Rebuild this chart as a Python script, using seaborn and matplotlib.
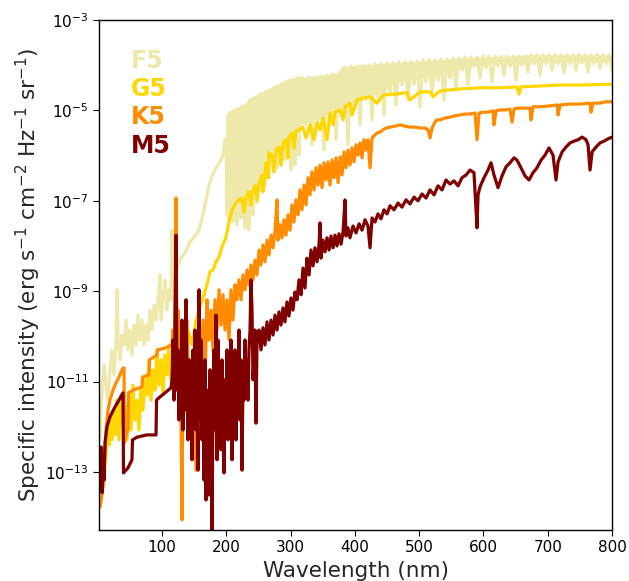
import numpy as np
import pandas as pd
import matplotlib
matplotlib.use("Agg")
import matplotlib.pyplot as plt
import seaborn as sns

# ---------------- data (wavelength in nm, log10 specific intensity) ----------------
stars = ["F5", "G5", "K5", "M5"]
colors = ["#EEE8AA", "#FFD700", "#FF8C00", "#800000"]

f5_wl = [3.6, 5.1, 6.7, 8.2, 9.8, 12.9, 16.0, 19.1, 22.2, 25.3, 28.4, 30.0, 31.6, 34.7, 37.8,
         40.9, 44.0, 47.1, 50.2, 53.3, 56.4, 59.6, 62.7, 65.8, 68.9, 72.0, 75.1, 78.2, 81.3, 84.4,
         87.6, 90.7, 93.8, 96.9, 98.4, 101.6, 104.7, 107.8, 110.9, 114.0, 115.6, 117.1, 120.2, 124.9,
         129.6, 135.8, 143.6, 151.3, 157.6, 163.8, 168.4, 173.1, 177.8, 184.0, 190.2, 194.9, 198.0,
         199.6, 201.2, 202.7, 204.3, 205.8, 207.4, 208.9, 210.5, 212.0, 213.6, 215.1, 216.7, 218.2,
         219.8, 221.3, 222.9, 224.4, 226.0, 227.6, 229.1, 230.7, 232.2, 233.8, 235.3, 236.9, 238.4,
         240.0, 241.6, 243.1, 244.7, 246.2, 247.8, 249.3, 250.9, 252.4, 254.0, 255.5, 257.1, 258.6,
         260.2, 261.8, 263.3, 264.9, 266.4, 268.0, 269.5, 271.1, 272.6, 274.2, 275.7, 277.3, 278.8,
         280.4, 282.0, 283.5, 285.1, 286.6, 288.2, 289.7, 291.3, 292.8, 294.4, 295.9, 297.5, 299.1,
         300.6, 302.2, 303.7, 305.3, 306.8, 308.4, 309.9, 311.5, 313.0, 314.6,
         319.3, 324.0, 328.6, 333.3, 338.0, 342.6, 347.3, 352.0, 356.6, 361.3, 366.0, 370.6, 375.3,
         380.0, 384.7, 389.3, 394.0, 398.7, 403.3, 408.0, 412.7, 417.3, 422.0, 426.7, 431.3, 436.0,
         440.7, 445.3, 450.0, 454.7, 459.3, 464.0, 468.7, 473.3, 478.0, 482.7, 487.3, 492.0, 496.7,
         501.3, 506.0, 510.7, 515.3, 520.0, 524.7, 529.3, 534.0, 538.7, 543.3, 548.0, 552.7, 557.3,
         562.0, 566.7, 571.3, 576.0, 580.7, 585.3, 590.0, 594.7, 599.3, 604.0, 608.7, 613.3, 618.0,
         622.7, 627.3, 632.0, 636.7, 641.3, 646.0, 650.7, 655.3, 660.0, 664.7, 669.3, 674.0, 678.7,
         683.3, 688.0, 692.7, 697.3, 702.0, 706.7, 711.3, 716.0, 720.7, 725.3, 730.0, 734.7, 739.3,
         744.0, 748.7, 753.3, 758.0, 762.7, 767.3, 772.0, 776.7, 781.3, 786.0, 790.7, 795.3, 800.0]
f5_log = [-12.29, -11.6, -11.30, -10.9, -10.63, -11.08, -11.41, -10.74, -10.30, -10.85, -10.19, -8.97,
          -10.08, -10.52, -9.97, -10.19, -9.64, -10.30, -9.86, -10.41, -9.75, -10.19, -9.53, -10.08,
          -9.64, -10.19, -9.75, -10.08, -9.42, -9.86, -9.31, -9.64, -9.19, -8.64, -9.64, -9.19, -8.75,
          -9.42, -8.97, -9.19, -7.65, -8.97, -8.64, -8.42, -8.27, -8.15, -7.91, -7.78, -7.65, -7.31,
          -6.98, -6.65, -6.45, -6.27, -6.14, -5.99, -5.65,
          -5.65, -7.31, -5.10, -7.42, -5.04, -7.20, -5.04, -7.47, -5.01, -7.09,
          -4.99, -7.53, -4.97, -6.98, -4.95, -7.38, -4.92, -6.87, -4.90, -7.60,
          -4.88, -7.09, -4.84, -7.65, -4.77, -6.87, -4.75, -7.31, -4.73, -6.76,
          -4.70, -7.05, -4.68, -6.54, -4.64, -6.76, -4.64, -6.36, -4.61, -6.65,
          -4.59, -6.21, -4.57, -6.49, -4.55, -6.10, -4.53, -6.32, -4.50, -5.88,
          -4.48, -6.27, -4.46, -5.76, -4.44, -6.21, -4.42, -5.65, -4.39, -6.10,
          -4.37, -5.54, -4.35, -5.88, -4.33, -6.32, -4.33, -5.65, -4.31, -6.21,
          -4.31, -5.43, -4.28, -5.99, -4.28,
          -4.28, -5.32, -4.26, -5.76, -4.26, -5.21, -4.24, -5.88, -4.22, -5.17,
          -4.19, -5.65, -4.17, -5.04, -4.04, -5.76, -4.02, -4.99, -4.02, -5.32,
          -4.00, -4.77, -4.00, -5.21, -3.97, -4.73, -3.97, -5.10, -3.95, -4.66,
          -3.95, -4.88, -3.93, -4.44, -3.93, -4.77, -3.91, -4.42, -3.91, -4.92,
          -3.88, -4.37, -3.88, -4.66, -3.88, -4.33, -3.86, -4.77, -3.86, -4.28,
          -3.84, -4.55, -3.84, -4.11, -3.82, -4.44, -3.82, -4.02, -3.82, -4.28,
          -3.80, -4.06, -3.80, -4.37, -3.80, -4.02, -3.80, -4.22, -3.80, -4.02,
          -3.80, -4.33, -3.80, -4.00, -3.80, -4.15, -3.77, -3.97, -3.77, -4.22,
          -3.77, -3.97, -3.77, -4.11, -3.77, -3.97, -3.77, -4.17, -3.77, -3.97,
          -3.77, -4.11, -3.77, -3.95, -3.77, -4.15, -3.77, -3.97, -3.77, -4.06,
          -3.77, -3.97, -3.77, -4.11]

# unresolved line forest of F5: upper envelope and the solid floor under it
f5_forest_wl = [199.6, 205.8, 221.3, 236.9, 249.3, 261.8, 275.8, 291.3, 314.7, 345.8,
                373.8, 378.5, 403.3, 431.3, 454.7, 501.3, 563.6, 625.8, 672.5, 800.0]
f5_forest_top = [-5.10, -5.04, -4.95, -4.77, -4.68, -4.59, -4.50, -4.39, -4.28, -4.22,
                 -4.17, -4.04, -4.00, -3.97, -3.95, -3.91, -3.84, -3.80, -3.77, -3.77]
f5_forest_floor = [-7.09, -7.09, -7.09, -6.87, -6.65, -6.21, -5.92, -5.65, -5.32, -5.17,
                   -5.04, -4.99, -4.77, -4.66, -4.44, -4.28, -4.06, -3.95, -3.93, -3.93]

g5_wl = [3.6, 6.7, 9.8, 12.9, 14.4, 17.6, 19.1, 22.2, 25.3, 28.4,
         30.0, 33.1, 36.2, 39.3, 42.4, 45.6, 48.7, 51.8, 54.9, 58.0,
         61.1, 64.2, 67.3, 70.4, 73.6, 76.7, 79.8, 82.9, 86.0, 89.1,
         92.2, 95.3, 98.4, 101.6, 104.7, 107.8, 110.9, 114.0, 117.1, 121.8,
         128.0, 134.2, 140.4, 146.7, 152.9, 157.6, 163.8, 170.0, 174.7, 179.3,
         184.0, 188.7, 193.3, 199.6, 204.2, 208.9, 215.1, 219.8, 224.4, 227.6,
         230.7, 235.3, 238.4, 240.0, 244.7, 247.8, 250.9, 255.5, 257.1, 261.8,
         264.9, 266.4, 271.1, 274.2, 277.3, 282.0, 285.1, 288.2, 292.8, 295.9,
         297.5, 302.2, 305.3, 308.4, 313.1, 319.3, 324.0, 330.2, 336.4, 341.1,
         345.8, 350.4, 356.7, 361.3, 366.0, 369.1, 376.9, 381.6, 384.7, 392.4,
         395.5, 403.3, 412.7, 423.6, 434.5, 443.8, 462.4, 481.1, 485.8, 501.3,
         516.9, 521.6, 532.4, 558.9, 594.7, 625.8, 652.2, 655.3, 658.4, 688.0,
         719.1, 750.2, 800.0]
g5_log = [-12.96, -12.85, -13.00, -12.62, -12.07, -12.40, -11.74, -12.29, -11.63, -12.18,
          -11.41, -12.29, -11.30, -11.96, -11.52, -12.29, -11.30, -12.07, -11.08, -11.85,
          -11.41, -12.07, -11.19, -11.63, -10.96, -11.30, -10.52, -11.41, -10.74, -11.19,
          -10.30, -11.08, -10.52, -11.30, -10.41, -10.85, -10.19, -10.96, -10.52, -10.30,
          -10.08, -10.41, -9.86, -10.19, -9.64, -9.42, -9.15, -8.86, -8.57, -8.53,
          -8.35, -8.24, -8.02, -7.80, -7.47, -7.20, -7.05, -6.98, -6.94, -7.25,
          -6.92, -6.80, -7.09, -6.83, -6.67, -6.98, -6.61, -6.43, -6.80, -6.16,
          -6.49, -5.94, -5.99, -6.36, -5.88, -5.81, -6.21, -5.72, -5.65, -6.05,
          -5.59, -5.50, -5.83, -5.45, -5.43, -5.37, -5.61, -5.32, -5.65, -5.26,
          -5.43, -5.17, -5.65, -5.06, -5.32, -5.04, -4.99, -5.21, -4.92, -4.84,
          -5.10, -4.77, -4.73, -4.70, -4.84, -4.66, -4.64, -4.61, -4.77, -4.59,
          -4.59, -4.70, -4.57, -4.53, -4.50, -4.50, -4.48, -4.64, -4.48, -4.46,
          -4.44, -4.44, -4.42]

k5_wl = [2.0, 3.6, 6.7, 9.8, 11.3, 12.9, 14.4, 16.0, 19.1, 23.8,
         28.4, 33.1, 36.2, 39.3, 40.9, 41.7, 44.0, 47.1, 47.9, 54.9,
         68.9, 69.7, 79.8, 80.6, 92.2, 93.0, 104.7, 115.6, 117.1, 118.7,
         120.2, 121.8, 123.3, 124.9, 126.4, 128.0, 129.6, 131.1, 132.7, 135.8,
         138.9, 142.0, 143.6, 146.7, 149.8, 152.9, 156.0, 157.6, 160.7, 163.8,
         166.9, 170.0, 173.1, 176.2, 179.3, 182.4, 185.6, 188.7, 191.8, 194.9,
         198.0, 201.1, 204.2, 207.3, 210.4, 213.6, 216.7, 219.8, 222.9, 226.0,
         229.1, 232.2, 235.3, 238.4, 241.6, 244.7, 247.8, 250.9, 254.0, 257.1,
         260.2, 263.3, 266.4, 269.6, 272.7, 275.8, 278.9, 280.4, 283.5, 286.6,
         289.8, 292.9, 296.0, 299.1, 302.2, 305.3, 308.4, 311.6, 314.7, 317.8,
         320.9, 324.0, 327.1, 330.2, 333.3, 336.5, 339.6, 342.7, 345.8, 348.9,
         352.0, 355.1, 358.2, 361.3, 364.5, 367.6, 370.7, 373.8, 376.9, 380.0,
         383.1, 386.2, 389.3, 392.4, 395.5, 398.7, 401.8, 404.9, 408.0, 411.1,
         414.2, 417.3, 420.4, 423.6, 426.7, 431.3, 434.5, 439.1, 443.8, 448.5,
         454.7, 462.4, 470.2, 478.0, 485.8, 493.6, 501.3, 509.1, 513.8, 516.9,
         520.0, 524.7, 527.8, 532.4, 540.2, 548.0, 555.8, 563.6, 571.3, 579.1,
         586.9, 590.0, 593.1, 599.3, 607.1, 614.9, 616.4, 619.6, 625.8, 633.6,
         641.3, 644.5, 647.6, 652.2, 664.7, 672.5, 674.0, 677.1, 688.0, 703.6,
         714.5, 716.1, 719.1, 734.7, 750.2, 765.8, 767.3, 770.5, 781.3, 789.1,
         800.0]
k5_log = [-13.62, -13.77, -13.51, -13.18, -12.51, -12.07, -11.85, -11.63, -11.41, -11.19,
          -11.03, -10.90, -10.79, -10.70, -10.70, -12.36, -12.18, -12.07, -11.25, -11.19,
          -11.12, -10.90, -10.85, -10.52, -10.41, -10.30, -10.26, -10.19, -9.86, -10.63,
          -9.19, -6.94, -10.52, -9.42, -10.96, -9.86, -11.85, -14.06, -10.08, -10.96,
          -9.64, -11.63, -10.52, -12.29, -10.30, -12.96, -10.96, -10.08, -10.52, -9.64,
          -10.96, -9.19, -10.08, -9.42, -10.30, -9.19, -9.86, -8.97, -9.75, -9.08,
          -9.86, -9.19, -10.08, -8.97, -9.64, -8.86, -9.19, -8.75, -9.19, -8.64,
          -8.97, -8.53, -8.86, -8.42, -8.75, -8.31, -8.64, -8.09, -8.42, -7.98,
          -8.35, -7.87, -8.20, -7.76, -8.04, -7.65, -6.98, -7.87, -7.53, -7.82,
          -7.42, -7.76, -7.31, -7.65, -7.09, -7.47, -6.98, -7.31, -6.76, -7.20,
          -6.65, -7.09, -6.49, -6.87, -6.36, -6.76, -6.27, -6.65, -6.21, -6.71,
          -6.16, -6.54, -6.14, -6.65, -6.10, -6.49, -6.05, -6.60, -6.03, -6.43,
          -5.92, -6.27, -5.88, -6.21, -5.83, -6.14, -5.76, -5.99, -5.72, -6.05,
          -5.65, -5.88, -5.65, -6.27, -5.61, -5.54, -5.50, -5.48, -5.43, -5.39,
          -5.37, -5.35, -5.32, -5.35, -5.37, -5.37, -5.39, -5.39, -5.43, -5.61,
          -5.39, -5.26, -5.21, -5.21, -5.17, -5.15, -5.12, -5.10, -5.08, -5.08,
          -5.06, -5.65, -5.06, -5.04, -5.04, -5.01, -5.32, -5.01, -4.99, -4.99,
          -4.97, -5.26, -4.97, -4.95, -4.95, -4.95, -5.21, -4.92, -4.92, -4.90,
          -4.88, -5.10, -4.88, -4.86, -4.86, -4.84, -5.04, -4.84, -4.84, -4.81,
          -4.81]

m5_wl = [2.0, 3.6, 5.1, 6.7, 8.2, 9.8, 11.3, 14.4, 19.1, 26.9, 33.1, 39.3, 40.1, 47.1, 53.3, 54.1,
         61.1, 76.7, 90.7, 91.5, 96.9, 104.7, 114.0, 115.6,
         117.1, 118.7, 120.2, 121.8, 123.3, 124.9, 126.4, 128.0, 129.6, 131.1,
         132.7, 134.2, 135.8, 137.3, 138.9, 140.4, 142.0, 143.6, 145.1, 146.7,
         148.2, 149.8, 151.3, 152.9, 154.4, 156.0, 157.6, 159.1, 160.7, 162.2,
         163.8, 165.3, 166.9, 168.4, 170.0, 171.6, 173.1, 174.7, 176.2, 177.8,
         179.3, 180.9, 182.4, 184.0, 185.6, 187.1, 188.7, 190.2, 191.8, 193.3,
         194.9, 196.4, 198.0, 199.6, 201.1, 202.7, 204.2, 205.8, 207.3, 208.9,
         210.4, 212.0, 213.6, 215.1, 216.7, 218.2, 219.8, 221.3, 222.9, 224.4,
         226.0, 227.6, 229.1, 230.7, 232.2, 233.8, 235.3, 236.9, 238.4, 240.0,
         241.6,
         244.7, 246.2, 247.8, 250.9, 254.0, 257.1, 260.2, 263.3, 266.4, 269.6,
         272.7, 275.8, 278.9, 282.0, 285.1, 288.2, 291.3, 294.4, 297.5, 300.6,
         303.7, 306.8, 310.0, 313.1, 316.2, 319.3, 322.4, 325.5, 328.7, 331.8,
         334.9, 338.0, 341.1, 344.2, 345.8, 347.3, 350.4, 353.6, 356.7, 359.8,
         362.9, 366.0, 369.1, 372.2, 375.3, 378.5, 381.6, 384.7, 386.2, 389.3,
         392.4, 397.1, 401.8, 406.5, 411.1, 415.8, 420.4, 423.6, 426.7, 431.3,
         436.0, 440.7, 445.3, 450.0, 454.7, 460.9, 467.1, 473.3, 479.6, 485.8,
         492.0, 498.2, 504.5, 510.7, 516.9, 523.1, 529.3, 535.6, 541.8, 548.0,
         554.2, 560.5, 566.7, 572.9, 579.1, 585.3, 590.0, 591.6, 594.7, 600.9,
         607.1, 611.8, 616.4, 622.7, 628.9, 635.1, 641.3, 647.6, 652.2, 658.4,
         664.7, 670.9, 677.1, 683.3, 689.6, 695.8, 702.0, 708.2, 712.9, 716.1,
         722.3, 728.5, 734.7, 740.9, 747.2, 753.4, 759.6, 762.7, 765.8, 769.0,
         775.2, 781.3, 787.6, 793.8, 800.0]
m5_log = [-12.73, -13.40, -12.45, -13.46, -12.62, -13.18, -12.36, -12.00, -11.78, -11.56, -11.41,
          -11.25, -13.02, -12.91, -12.73, -12.29, -12.23, -12.18, -12.18, -11.41, -11.34, -11.25,
          -11.14, -10.96,
          -10.08, -11.41, -9.86, -7.76, -11.19, -10.30, -11.85, -10.52, -11.41, -9.64,
          -12.07, -10.74, -11.63, -9.19, -11.19, -12.29, -10.52, -11.85, -10.96, -12.73,
          -10.30, -11.63, -9.86, -12.07, -11.19, -12.96, -8.97, -11.85, -10.08, -12.29,
          -10.96, -13.18, -10.52, -13.62, -11.19, -12.07, -13.51, -10.74, -12.51, -14.33,
          -11.41, -10.30, -12.07, -9.53, -12.73, -10.08, -11.85, -11.19, -12.51, -10.52,
          -11.63, -13.02, -10.96, -11.85, -10.30, -12.29, -10.74, -11.63, -10.08, -12.73,
          -10.96, -11.85, -10.30, -12.29, -10.74, -11.41, -9.86, -11.85, -10.52, -12.96,
          -10.96, -11.41, -10.08, -11.19, -10.52, -11.41, -10.30, -9.86, -8.75, -9.42,
          -10.96,
          -9.86, -11.92, -10.08, -9.86, -10.30, -9.81, -10.19, -9.68, -10.08, -9.64,
          -9.97, -9.53, -9.86, -9.46, -9.75, -9.37, -9.68, -9.24, -9.55, -9.15,
          -9.42, -9.02, -9.19, -8.75, -9.08, -8.49, -8.93, -8.27, -8.64, -8.09,
          -8.44, -8.04, -8.35, -7.98, -7.49, -8.27, -7.87, -8.13, -7.82, -8.09,
          -7.78, -8.04, -7.76, -8.00, -7.73, -7.96, -7.69, -6.98, -7.78, -7.60,
          -7.82, -7.56, -7.71, -7.51, -7.65, -7.42, -7.56, -8.04, -7.38, -7.47,
          -7.29, -7.40, -7.20, -7.29, -7.11, -7.20, -7.05, -7.14, -6.98, -7.07,
          -6.92, -7.00, -6.85, -6.94, -6.76, -6.87, -6.67, -6.76, -6.54, -6.63,
          -6.56, -6.67, -6.49, -6.43, -6.32, -6.38, -7.60, -6.87, -6.69, -6.49,
          -6.32, -6.16, -6.43, -6.71, -6.45, -6.25, -6.16, -6.05, -6.10, -6.27,
          -6.45, -6.54, -6.38, -6.27, -6.10, -5.99, -5.83, -5.99, -6.54, -6.14,
          -5.92, -5.81, -5.72, -5.68, -5.65, -5.59, -5.65, -5.76, -6.32, -5.92,
          -5.81, -5.72, -5.68, -5.63, -5.59]

x_ticks = [100, 200, 300, 400, 500, 600, 700, 800]
y_ticks = [1e-13, 1e-11, 1e-9, 1e-7, 1e-5, 1e-3]

# ---------------- build table ----------------
series = {"F5": (f5_wl, f5_log), "G5": (g5_wl, g5_log), "K5": (k5_wl, k5_log), "M5": (m5_wl, m5_log)}
frames = []
for name, (wl, lg) in series.items():
    assert len(wl) == len(lg), (name, len(wl), len(lg))
    frames.append(pd.DataFrame({"wavelength": wl, "intensity": 10.0 ** np.asarray(lg), "star": name}))
df = pd.concat(frames, ignore_index=True)

forest = pd.DataFrame({"wavelength": f5_forest_wl,
                       "top": 10.0 ** np.asarray(f5_forest_top),
                       "floor": 10.0 ** np.asarray(f5_forest_floor)})

# ---------------- plot ----------------
sns.set_style("ticks")
plt.rcParams["font.family"] = ["DejaVu Sans"]

fig = plt.figure(figsize=(6.29, 5.81), dpi=100)
ax = fig.add_axes([0.1574, 0.0878, 0.8156, 0.8778])

ax.fill_between(forest["wavelength"], forest["floor"], forest["top"],
                color=colors[0], linewidth=0, zorder=1)

sns.lineplot(data=df, x="wavelength", y="intensity", hue="star", hue_order=stars,
             palette=dict(zip(stars, colors)), estimator=None, sort=False,
             errorbar=None, legend=False, linewidth=2.3, ax=ax)

ax.set_yscale("log")
ax.set_xlim(2, 800)
ax.set_ylim(5.2e-15, 1e-3)
ax.set_xticks(x_ticks)
ax.set_yticks(y_ticks)
ax.yaxis.set_minor_locator(matplotlib.ticker.NullLocator())
ax.tick_params(axis="both", labelsize=11, colors="black", direction="out", length=4)
for s in ax.spines.values():
    s.set_color("black")
    s.set_linewidth(1.0)

ax.set_xlabel("Wavelength (nm)", fontsize=15.5, labelpad=4)
ax.set_ylabel(r"Specific intensity (erg s$^{-1}$ cm$^{-2}$ Hz$^{-1}$ sr$^{-1}$)",
              fontsize=15.5, labelpad=2)

label_y = [0.92, 0.865, 0.81, 0.753]
for name, col, yy in zip(stars, colors, label_y):
    ax.text(0.062, yy, name, transform=ax.transAxes, color=col, fontsize=17,
            fontweight="bold", ha="left", va="center")

fig.savefig("out.png", dpi=100)
